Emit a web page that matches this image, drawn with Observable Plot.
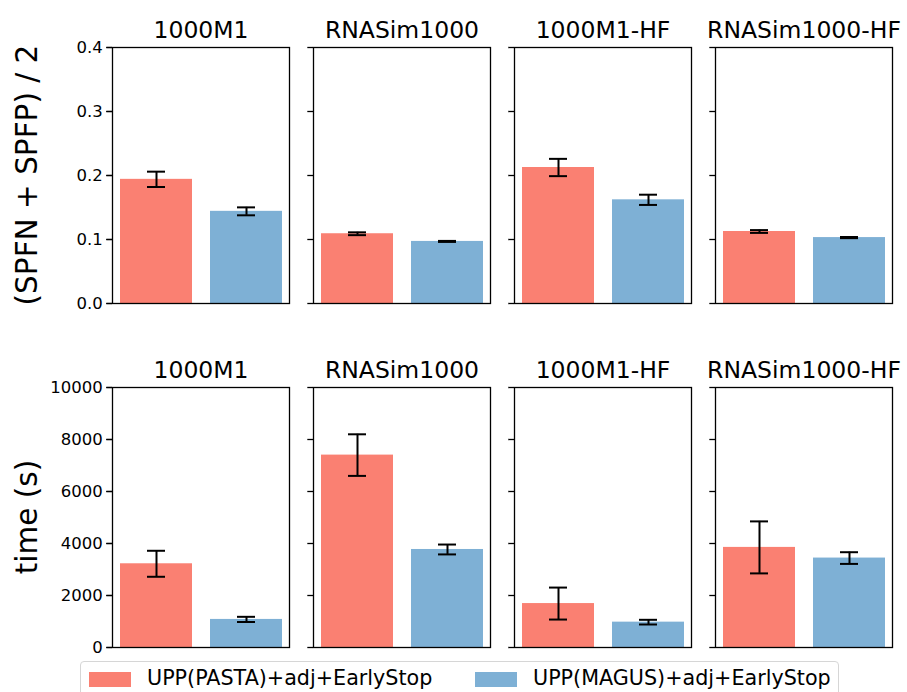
<!DOCTYPE html>
<html>
<head>
<meta charset="utf-8">
<script src="https://cdn.jsdelivr.net/npm/d3@7"></script>
<script src="https://cdn.jsdelivr.net/npm/@observablehq/plot@0.6"></script>
<style>
  html, body { margin: 0; padding: 0; background: #fff; }
  #root { position: relative; width: 907px; height: 692px; overflow: hidden; font-family: "DejaVu Sans", sans-serif; }
  .row { position: absolute; left: 0; }
  .ylab { position: absolute; font-size: 29.5px; color: #000; white-space: nowrap; transform-origin: center center; }
  #legend { position: absolute; left: 80px; top: 661px; width: 759px; height: 40px; border: 1.3px solid #d6d6d6; border-radius: 4px; background: rgba(255,255,255,0.8); box-sizing: border-box; }
  .sw { position: absolute; top: 10px; width: 42px; height: 15px; }
  .lt { position: absolute; top: 4px; font-size: 20.7px; color: #000; white-space: nowrap; line-height: 24px; }
</style>
</head>
<body>
<div id="root">
  <div class="row" id="row1" style="top:0px"></div>
  <div class="row" id="row2" style="top:320px"></div>
  <div class="ylab" id="yl1">(SPFN + SPFP) / 2</div>
  <div class="ylab" id="yl2">time (s)</div>
  <div id="legend"></div>
</div>
<script>
const datasets = ["1000M1", "RNASim1000", "1000M1-HF", "RNASim1000-HF"];
const methods = ["UPP(PASTA)+adj+EarlyStop", "UPP(MAGUS)+adj+EarlyStop"];
const colors = ["#FA8072", "#7EB0D5"];

// error metric (SPFN + SPFP) / 2 : [PASTA, MAGUS] per dataset
const errPasta = [0.194, 0.109, 0.2125, 0.1125];
const errPastaSd = [0.012, 0.0022, 0.0135, 0.0022];
const errMagus = [0.144, 0.097, 0.162, 0.103];
const errMagusSd = [0.0062, 0.0008, 0.008, 0.0009];

// running time (s)
const timePasta = [3220, 7400, 1690, 3850];
const timePastaSd = [500, 800, 615, 1000];
const timeMagus = [1080, 3770, 975, 3440];
const timeMagusSd = [100, 190, 90, 225];

const errTicks = [0, 0.1, 0.2, 0.3, 0.4];
const timeTicks = [0, 2000, 4000, 6000, 8000, 10000];

function rows(a, asd, b, bsd) {
  const out = [];
  datasets.forEach((d, i) => {
    out.push({dataset: d, method: methods[0], value: a[i], sd: asd[i]});
    out.push({dataset: d, method: methods[1], value: b[i], sd: bsd[i]});
  });
  return out;
}

function panel(data, yDomain, ticks, fmt, height, marginTop, marginBottom) {
  return Plot.plot({
    width: 907,
    height,
    marginTop,
    marginBottom,
    marginLeft: 110,
    marginRight: 14,
    style: {fontFamily: "DejaVu Sans, sans-serif", fontSize: "16.5px", color: "#000", background: "#fff"},
    fx: {domain: datasets, axis: null, paddingInner: 24 / 201, paddingOuter: 0, label: null},
    x: {domain: methods, axis: null, paddingInner: 0.2, paddingOuter: 0.083},
    y: {domain: yDomain, axis: null},
    color: {domain: methods, range: colors},
    marks: [
      Plot.barY(data, {fx: "dataset", x: "method", y: "value", fill: "method"}),
      Plot.ruleX(data, {fx: "dataset", x: "method", y1: d => d.value - d.sd, y2: d => d.value + d.sd, stroke: "#000", strokeWidth: 2}),
      Plot.tickY(data, {fx: "dataset", x: "method", y: d => d.value - d.sd, stroke: "#000", strokeWidth: 2, insetLeft: 27, insetRight: 27}),
      Plot.tickY(data, {fx: "dataset", x: "method", y: d => d.value + d.sd, stroke: "#000", strokeWidth: 2, insetLeft: 27, insetRight: 27}),
      Plot.frame({stroke: "#000", strokeWidth: 1.3, strokeOpacity: 1}),
      Plot.axisY({ticks, tickFormat: () => "", tickSize: 5.7, facetAnchor: null, label: null, stroke: "#000", strokeWidth: 1.3, strokeOpacity: 1}),
      Plot.axisY({ticks, tickFormat: fmt, tickSize: 5.7, tickPadding: 4, facetAnchor: "left", label: null, fontSize: 16.5, stroke: "#000", strokeWidth: 1.3, strokeOpacity: 1}),
      Plot.text(datasets, {fx: d => d, text: d => d, frameAnchor: "top", dy: -10, lineAnchor: "bottom", fontSize: 23.5, fill: "#000"})
    ]
  });
}

const p1 = panel(rows(errPasta, errPastaSd, errMagus, errMagusSd), [0, 0.4], errTicks, d3.format(".1f"), 320, 47, 17);
const p2 = panel(rows(timePasta, timePastaSd, timeMagus, timeMagusSd), [0, 10000], timeTicks, d => String(d), 372, 67, 45);
document.getElementById("row1").appendChild(p1);
document.getElementById("row2").appendChild(p2);

function placeYLabel(id, cx, cy) {
  const el = document.getElementById(id);
  const w = el.offsetWidth, h = el.offsetHeight;
  el.style.left = (cx - w / 2) + "px";
  el.style.top = (cy - h / 2) + "px";
  el.style.transform = "rotate(-90deg)";
}
placeYLabel("yl1", 27, 175);
placeYLabel("yl2", 27, 517);

const legend = document.getElementById("legend");
const swX = [8, 394], txX = [66, 452];
methods.forEach((m, i) => {
  const sw = document.createElement("div");
  sw.className = "sw"; sw.style.left = swX[i] + "px"; sw.style.background = colors[i];
  const t = document.createElement("div");
  t.className = "lt"; t.style.left = txX[i] + "px"; t.textContent = m;
  legend.appendChild(sw); legend.appendChild(t);
});
</script>
</body>
</html>
